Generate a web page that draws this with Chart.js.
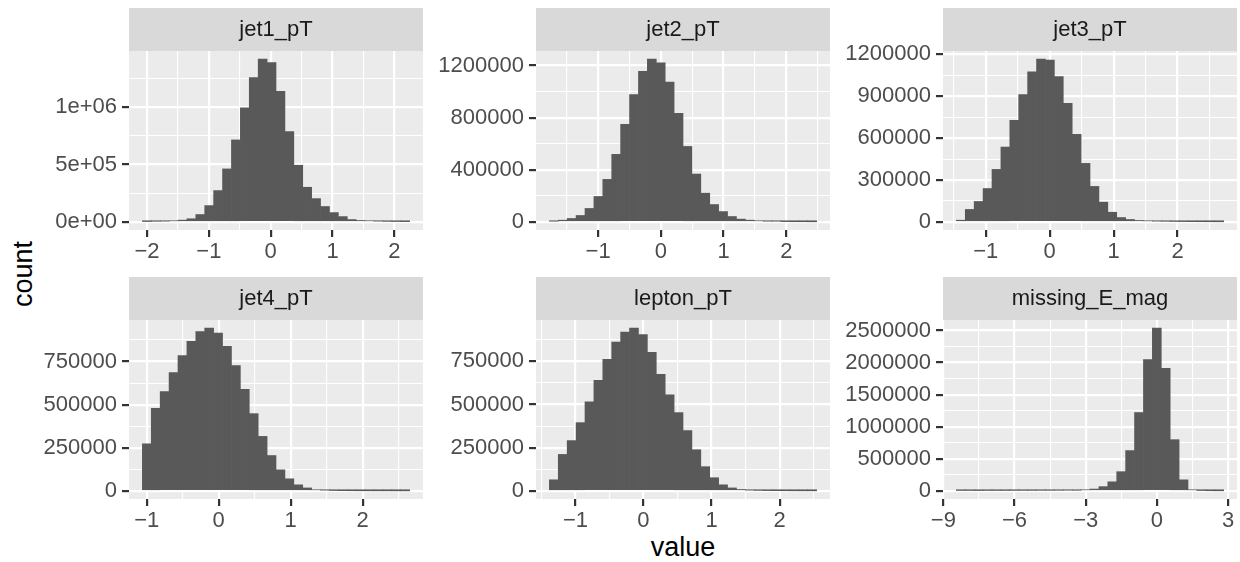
<!DOCTYPE html>
<html>
<head>
<meta charset="utf-8">
<title>Feature histograms</title>
<script src="https://cdn.jsdelivr.net/npm/chart.js@4.4.1/dist/chart.umd.min.js"></script>
<style>
  body { margin: 0; background: #ffffff; }
  #wrap {
    position: relative; width: 1240px; height: 562px; overflow: hidden;
    font-family: 'Liberation Sans', Arial, Helvetica, sans-serif;
  }
  #wrap canvas { position: absolute; }
  .axis-title {
    position: absolute; font-size: 27px; line-height: 27px; height: 27px;
    color: #000000; white-space: nowrap;
  }
  #xTitle { left: 683px; top: 534px; transform: translateX(-50%); }
  #yTitle { left: 23px; top: 274px; transform: translate(-50%, -50%) rotate(-90deg); }
</style>
</head>
<body>
<div id="wrap">
  <div class="axis-title" id="xTitle">value</div>
  <div class="axis-title" id="yTitle">count</div>
</div>
<script>
const panelNames = ['jet1_pT', 'jet2_pT', 'jet3_pT', 'jet4_pT', 'lepton_pT', 'missing_E_mag'];

// 30 bins per variable: left edge of the first bin and the bin width
const binStart = [-2.076, -1.777, -1.459, -1.061, -1.383, -8.451];
const binWidth = [0.1441, 0.1420, 0.1393, 0.1238, 0.1309, 0.3753];

const jet1Counts = [3000, 5000, 6000, 9000, 15000, 27000, 64000, 142000, 273000, 462000,
  715000, 994000, 1259000, 1420000, 1390000, 1140000, 788000, 494000, 302000, 203000,
  134000, 81000, 46000, 20000, 12000, 9000, 6000, 4000, 3000, 2000];
const jet2Counts = [5000, 13000, 26000, 49000, 103000, 195000, 326000, 518000, 749000, 977000,
  1156000, 1249000, 1220000, 1072000, 833000, 579000, 367000, 220000, 133000, 79000,
  41000, 21000, 13000, 8000, 5000, 5000, 2000, 1000, 1000, 500];
const jet3Counts = [12000, 89000, 146000, 239000, 376000, 536000, 728000, 912000, 1075000, 1166000,
  1159000, 1041000, 850000, 627000, 419000, 254000, 141000, 69000, 31000, 17000,
  10000, 7000, 5000, 4000, 3000, 2000, 1500, 1000, 800, 500];
const jet4Counts = [273000, 479000, 576000, 686000, 785000, 868000, 924000, 944000, 915000, 839000,
  727000, 589000, 448000, 316000, 205000, 122000, 70000, 35000, 17000, 6000,
  4000, 2000, 1000, 800, 500, 400, 300, 200, 100, 100];
const leptonCounts = [64000, 211000, 291000, 395000, 516000, 640000, 762000, 862000, 919000, 942000,
  905000, 802000, 674000, 556000, 453000, 349000, 238000, 140000, 76000, 35000,
  17000, 8000, 4000, 2500, 1500, 1000, 700, 400, 300, 200];
const missingCounts = [6000, 6000, 5000, 6000, 6000, 6000, 7000, 7000, 7000, 8000,
  8000, 9000, 10000, 9000, 16000, 28000, 66000, 141000, 299000, 628000,
  1221000, 2046000, 2537000, 1910000, 798000, 172000, 16000, 5000, 2000, 1000];

const allCounts = [jet1Counts, jet2Counts, jet3Counts, jet4Counts, leptonCounts, missingCounts];

// axis breaks and their labels
const xBreaks = [[-2, -1, 0, 1, 2], [-1, 0, 1, 2], [-1, 0, 1, 2], [-1, 0, 1, 2], [-1, 0, 1, 2], [-9, -6, -3, 0, 3]];
const yBreaks = [
  [0, 500000, 1000000],
  [0, 400000, 800000, 1200000],
  [0, 300000, 600000, 900000, 1200000],
  [0, 250000, 500000, 750000],
  [0, 250000, 500000, 750000],
  [0, 500000, 1000000, 1500000, 2000000, 2500000]
];
const yLabels = [
  ['0e+00', '5e+05', '1e+06'],
  ['0', '400000', '800000', '1200000'],
  ['0', '300000', '600000', '900000', '1200000'],
  ['0', '250000', '500000', '750000'],
  ['0', '250000', '500000', '750000'],
  ['0', '500000', '1000000', '1500000', '2000000', '2500000']
];

// facet grid geometry (px)
const colLeft = [129, 536, 943];
const rowTop = [51, 320];
const panelW = 294, panelH = 179, stripH = 43;
const yAxisW = 115, xAxisH = 42, rightPad = 3;
const fontFamily = "'Liberation Sans', Arial, Helvetica, sans-serif";

// majors with labels, minor lines half way between (and one step past the ends if inside)
function gridTicks(breaks, labels, min, max) {
  const out = [];
  const step = breaks[1] - breaks[0];
  const first = breaks[0] - step / 2;
  if (first >= min) out.push({ value: first, text: '', minor: true });
  breaks.forEach((b, k) => {
    if (k > 0) out.push({ value: b - step / 2, text: '', minor: true });
    out.push({ value: b, text: labels[k], minor: false });
  });
  const last = breaks[breaks.length - 1] + step / 2;
  if (last <= max) out.push({ value: last, text: '', minor: true });
  return out.filter(t => t.value >= min && t.value <= max);
}

const panelBackground = {
  id: 'panelBackground',
  beforeDraw(chart) {
    const { ctx, chartArea: a } = chart;
    ctx.save();
    ctx.fillStyle = '#EBEBEB';
    ctx.fillRect(a.left, a.top, a.right - a.left, a.bottom - a.top);
    ctx.fillStyle = '#D9D9D9';
    ctx.fillRect(a.left, a.top - stripH, a.right - a.left, stripH);
    ctx.restore();
  }
};

const gridOpts = {
  color: '#FFFFFF',
  lineWidth: c => (c.tick && c.tick.minor ? 1.1 : 2.2),
  tickColor: c => (c.tick && c.tick.minor ? 'rgba(0,0,0,0)' : '#333333'),
  tickWidth: 2.2,
  tickLength: 7,
  drawTicks: true
};

function tickOpts(pad) {
  return {
    autoSkip: false,
    maxRotation: 0,
    minRotation: 0,
    padding: pad,
    color: '#4D4D4D',
    font: { family: fontFamily, size: 22 },
    callback: (v, k, ts) => ts[k].text
  };
}

const wrap = document.getElementById('wrap');

allCounts.forEach((counts, i) => {
  const col = i % 3, row = Math.floor(i / 3);
  const canvas = document.createElement('canvas');
  canvas.width = yAxisW + panelW + rightPad;
  canvas.height = stripH + panelH + xAxisH;
  canvas.style.left = (colLeft[col] - yAxisW) + 'px';
  canvas.style.top = (rowTop[row] - stripH) + 'px';
  wrap.appendChild(canvas);

  const points = counts.map((c, k) => ({ x: binStart[i] + binWidth[i] * (k + 0.5), y: c }));
  const lo = binStart[i];
  const hi = binStart[i] + binWidth[i] * counts.length;
  const xPad = (hi - lo) * 0.05;
  const peak = Math.max(...counts);
  const xLabels = xBreaks[i].map(v => String(v).replace('-', '\u2212'));

  new Chart(canvas, {
    type: 'bar',
    data: {
      datasets: [{
        data: points,
        backgroundColor: '#595959',
        borderWidth: 0,
        barPercentage: 1,
        categoryPercentage: 1
      }]
    },
    options: {
      responsive: false,
      animation: false,
      events: [],
      layout: { padding: { top: 0, right: rightPad, bottom: 0, left: 0 } },
      plugins: {
        legend: { display: false },
        tooltip: { enabled: false },
        title: {
          display: true,
          text: panelNames[i],
          fullSize: false,
          color: '#1A1A1A',
          font: { family: fontFamily, size: 22, weight: 'normal', lineHeight: 1.2 },
          padding: { top: 8.3, bottom: 8.3 }
        }
      },
      scales: {
        x: {
          type: 'linear',
          min: lo - xPad,
          max: hi + xPad,
          offset: false,
          border: { display: false },
          grid: Object.assign({ offset: false }, gridOpts),
          ticks: tickOpts(2),
          afterBuildTicks: s => { s.ticks = gridTicks(xBreaks[i], xLabels, s.min, s.max); },
          afterFit: s => { s.height = xAxisH; }
        },
        y: {
          min: -0.05 * peak,
          max: 1.05 * peak,
          border: { display: false },
          grid: gridOpts,
          ticks: tickOpts(5),
          afterBuildTicks: s => { s.ticks = gridTicks(yBreaks[i], yLabels[i], s.min, s.max); },
          afterFit: s => { s.width = yAxisW; }
        }
      }
    },
    plugins: [panelBackground]
  });
});
</script>
</body>
</html>
